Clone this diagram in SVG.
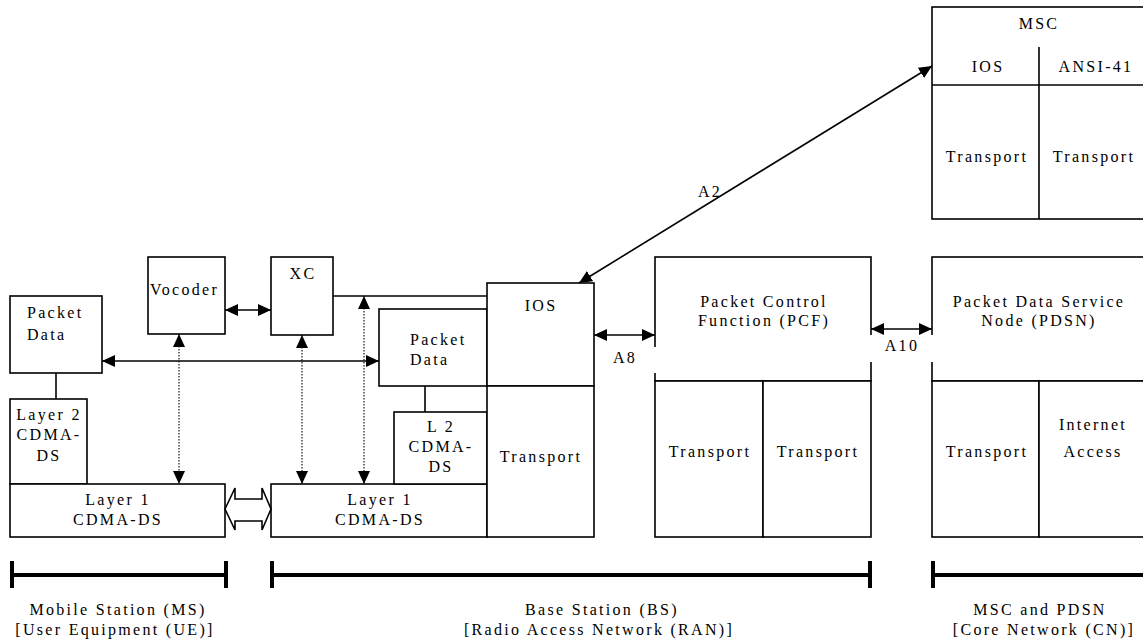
<svg xmlns="http://www.w3.org/2000/svg" width="1143" height="644" viewBox="0 0 1143 644" font-family="'Liberation Serif', 'Times New Roman', 'DejaVu Serif', serif">
<defs>
<style>
.box{fill:#fff;stroke:#000;stroke-width:1.6}
.t{font-family:'Liberation Serif','Times New Roman','DejaVu Serif',serif;font-size:16px;letter-spacing:2.3px;fill:#000}
.c{text-anchor:middle}
.ln{stroke:#000;stroke-width:1.6;fill:none}
.dot{stroke:#000;stroke-width:1.1;fill:none;stroke-dasharray:1.5 1.5}
.bar{stroke:#000;stroke-width:4;fill:none}
</style>
<marker id="ah" viewBox="0 0 13 12" refX="13" refY="6" markerWidth="13" markerHeight="12" markerUnits="userSpaceOnUse" orient="auto-start-reverse">
<path d="M0,0 L13,6 L0,12 z" fill="#000"/>
</marker>
</defs>
<rect width="1143" height="644" fill="#fff"/>

<g id="ms-packet-data">
<rect class="box" x="10" y="296" width="92" height="77"/>
<text class="t" x="27" y="318">Packet</text>
<text class="t" x="27" y="340">Data</text>
</g>
<g id="vocoder">
<rect class="box" x="148" y="257" width="77" height="77"/>
<text class="t" x="150" y="295">Vocoder</text>
</g>
<g id="xc">
<rect class="box" x="271" y="257" width="62" height="78"/>
<text class="t c" x="303" y="279">XC</text>
</g>
<g id="ms-layer2">
<rect class="box" x="10" y="399" width="77" height="85"/>
<text class="t c" x="49" y="420">Layer 2</text>
<text class="t c" x="49" y="440">CDMA-</text>
<text class="t c" x="49" y="461">DS</text>
</g>
<g id="ms-layer1">
<rect class="box" x="10" y="484" width="215" height="53"/>
<text class="t c" x="118" y="505">Layer 1</text>
<text class="t c" x="118" y="525">CDMA-DS</text>
</g>
<g id="bs-layer1">
<rect class="box" x="271" y="484" width="216" height="53"/>
<text class="t c" x="380" y="505">Layer 1</text>
<text class="t c" x="380" y="525">CDMA-DS</text>
</g>
<g id="bs-packet-data">
<rect class="box" x="379" y="309" width="108" height="77"/>
<text class="t" x="410" y="345">Packet</text>
<text class="t" x="410" y="365">Data</text>
</g>
<g id="bs-l2">
<rect class="box" x="394" y="412" width="93" height="72"/>
<text class="t c" x="441" y="432">L 2</text>
<text class="t c" x="441" y="452">CDMA-</text>
<text class="t c" x="441" y="472">DS</text>
</g>
<g id="bs-ios">
<rect class="box" x="487" y="283" width="107" height="103"/>
<text class="t c" x="541" y="311">IOS</text>
</g>
<g id="bs-transport">
<rect class="box" x="487" y="386" width="107" height="151"/>
<text class="t c" x="541" y="462">Transport</text>
</g>
<g id="pcf">
<rect class="box" x="655" y="257" width="216" height="124"/>
<text class="t c" x="764" y="307">Packet Control</text>
<text class="t c" x="764" y="326">Function (PCF)</text>
<rect class="box" x="655" y="381" width="108" height="156"/>
<text class="t c" x="710" y="457">Transport</text>
<rect class="box" x="763" y="381" width="108" height="156"/>
<text class="t c" x="818" y="457">Transport</text>
</g>
<g id="pdsn">
<rect class="box" x="932" y="257" width="214" height="124"/>
<text class="t c" x="1039" y="307">Packet Data Service</text>
<text class="t c" x="1039" y="326">Node (PDSN)</text>
<rect class="box" x="932" y="381" width="107" height="156"/>
<text class="t c" x="987" y="457">Transport</text>
<rect class="box" x="1039" y="381" width="107" height="156"/>
<text class="t c" x="1093" y="430">Internet</text>
<text class="t c" x="1093" y="457">Access</text>
</g>
<g id="msc">
<rect class="box" x="932" y="7" width="214" height="212"/>
<line class="ln" x1="932" y1="85" x2="1146" y2="85"/>
<line class="ln" x1="1039" y1="47" x2="1039" y2="219"/>
<text class="t c" x="1039" y="29">MSC</text>
<text class="t c" x="988" y="72">IOS</text>
<text class="t c" x="1096" y="72">ANSI-41</text>
<text class="t c" x="987" y="162">Transport</text>
<text class="t c" x="1094" y="162">Transport</text>
</g>

<g id="connectors">
<line class="ln" x1="56" y1="373" x2="56" y2="399"/>
<line class="ln" x1="425" y1="386" x2="425" y2="412"/>
<line class="ln" x1="333" y1="296" x2="487" y2="296"/>
<line class="ln" x1="225" y1="310" x2="271" y2="310" marker-start="url(#ah)" marker-end="url(#ah)"/>
<line class="ln" x1="102" y1="361" x2="379" y2="361" marker-start="url(#ah)" marker-end="url(#ah)"/>
<line class="dot" x1="179" y1="334" x2="179" y2="484" marker-start="url(#ah)" marker-end="url(#ah)"/>
<line class="dot" x1="302" y1="335" x2="302" y2="484" marker-start="url(#ah)" marker-end="url(#ah)"/>
<line class="dot" x1="364" y1="296" x2="364" y2="484" marker-start="url(#ah)" marker-end="url(#ah)"/>
<polygon class="box" points="225,509 235,488 235,499 262,499 262,488 271,509 262,530 262,521 235,521 235,530"/>
<line class="ln" x1="594" y1="335" x2="655" y2="335" marker-start="url(#ah)" marker-end="url(#ah)"/>
<rect x="600" y="347" width="60" height="26" fill="#fff"/>
<text class="t c" x="625" y="363">A8</text>
<line class="ln" x1="871" y1="329" x2="932" y2="329" marker-start="url(#ah)" marker-end="url(#ah)"/>
<rect x="866" y="335" width="71" height="27" fill="#fff"/>
<text class="t c" x="902" y="351">A10</text>
<line class="ln" x1="579" y1="283" x2="932" y2="66" marker-start="url(#ah)" marker-end="url(#ah)"/>
<text class="t c" x="710" y="197">A2</text>
</g>

<g id="scopes">
<path class="bar" d="M12,575 H226 M12,561 V588 M226,561 V588"/>
<path class="bar" d="M272,575 H870 M272,561 V588 M870,561 V588"/>
<path class="bar" d="M933,575 H1146 M933,561 V588"/>
<text class="t c" x="118" y="615">Mobile Station (MS)</text>
<text class="t c" x="115" y="635">[User Equipment (UE)]</text>
<text class="t c" x="602" y="615">Base Station (BS)</text>
<text class="t c" x="599" y="635">[Radio Access Network (RAN)]</text>
<text class="t c" x="1040" y="615">MSC and PDSN</text>
<text class="t c" x="1044" y="635">[Core Network (CN)]</text>
</g>
</svg>
